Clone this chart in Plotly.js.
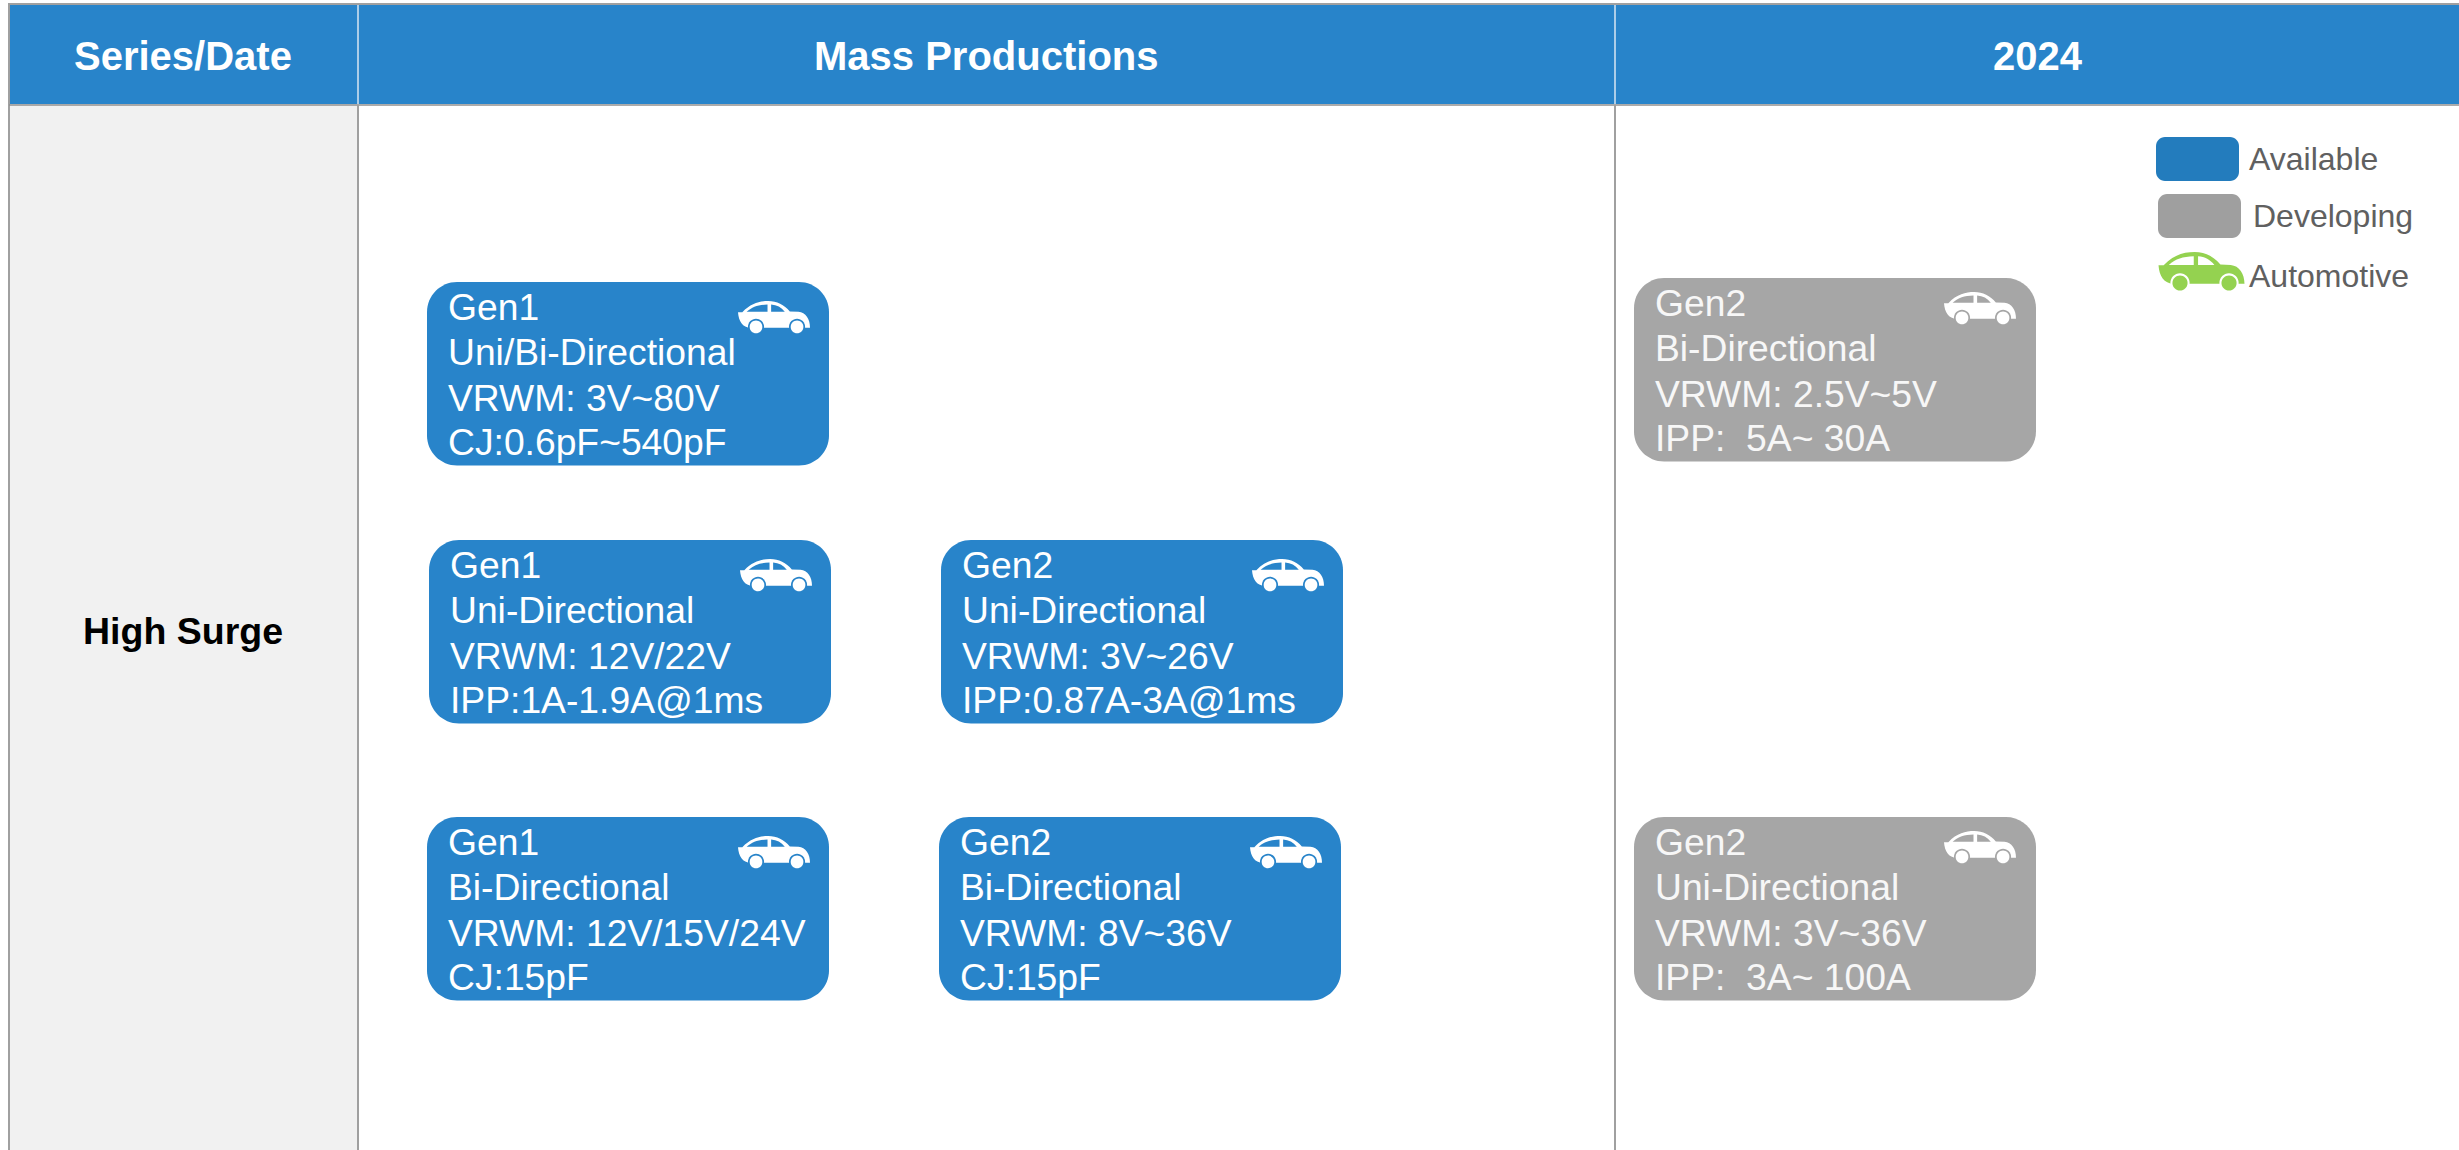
<!DOCTYPE html>
<html>
<head>
<meta charset="utf-8">
<script src="https://cdn.plot.ly/plotly-3.0.1.min.js"></script>
<style>html,body{margin:0;padding:0;background:#fff;overflow:hidden}</style>
</head>
<body>
<div id="chart" style="width:2459px;height:1150px"></div>
<script>
// ---- content ----
const headers = ["Series/Date", "Mass Productions", "2024"];
const rowLabel = "High Surge";
const cardGen = ["Gen1","Gen1","Gen2","Gen1","Gen2","Gen2","Gen2"];
const cardDirection = ["Uni/Bi-Directional","Uni-Directional","Uni-Directional","Bi-Directional","Bi-Directional","Bi-Directional","Uni-Directional"];
const cardVrwm = ["VRWM: 3V~80V","VRWM: 12V/22V","VRWM: 3V~26V","VRWM: 12V/15V/24V","VRWM: 8V~36V","VRWM: 2.5V~5V","VRWM: 3V~36V"];
const cardLast = ["CJ:0.6pF~540pF","IPP:1A-1.9A@1ms","IPP:0.87A-3A@1ms","CJ:15pF","CJ:15pF","IPP:  5A~ 30A","IPP:  3A~ 100A"];
const cardStatus = ["a","a","a","a","a","d","d"];
const legendLabels = ["Available","Developing","Automotive"];

// ---- geometry (page pixels, mapped through the axes) ----
const cardLeft = [427,429,941,427,939,1634,1634];
const cardTop  = [282,540,540,817,817,278,817];
const cardW = 402, cardH = 183.5, cardR = 30;
const lineOffsets = [38,83,129,173];
const colX = [9,358,1615,2459];
const headTop = 5, headBottom = 104;

// ---- style ----
const BLUE = "#2884ca", GREY = "#a6a6a6", LINE = "#a0a0a0";

function rr(x,y,w,h,r){
  const k = r*0.45;
  return `M${x+r},${y} L${x+w-r},${y} C${x+w-k},${y} ${x+w},${y+k} ${x+w},${y+r} L${x+w},${y+h-r} C${x+w},${y+h-k} ${x+w-k},${y+h} ${x+w-r},${y+h} L${x+r},${y+h} C${x+k},${y+h} ${x},${y+h-k} ${x},${y+h-r} L${x},${y+r} C${x},${y+k} ${x+k},${y} ${x+r},${y} Z`;
}
function circ(cx,cy,r){
  const k=r*0.5523;
  return `M${cx-r},${cy} C${cx-r},${cy-k} ${cx-k},${cy-r} ${cx},${cy-r} C${cx+k},${cy-r} ${cx+r},${cy-k} ${cx+r},${cy} C${cx+r},${cy+k} ${cx+k},${cy+r} ${cx},${cy+r} C${cx-k},${cy+r} ${cx-r},${cy+k} ${cx-r},${cy} Z`;
}
function shp(path,fill){
  return {type:"path",xref:"x",yref:"y",path:path,fillcolor:fill,line:{width:0},layer:"below"};
}
// car: x,y = top-left of bounding box, w = overall width; bg = colour of cut-outs
function car(x,y,w,fill,bg){
  const s=w/100;
  const P=(u,v)=>`${(x+u*s).toFixed(2)},${(y+v*s).toFixed(2)}`;
  const body=`M${P(0,15.5)} L${P(6,15.5)} C${P(18,3)} ${P(30,0)} ${P(42,0)} C${P(54,0)} ${P(64,5)} ${P(72,14.5)} L${P(84,15)} C${P(94,16)} ${P(100,25)} ${P(100,37)} L${P(18,37)} C${P(6,37)} ${P(1,28)} ${P(0,15.5)} Z`;
  const w1=`M${P(12,15)} C${P(20,8)} ${P(28,5.5)} ${P(41,5)} L${P(41,15)} Z`;
  const w2=`M${P(46,5)} C${P(54,5.5)} ${P(60,9)} ${P(65,15)} L${P(46,15)} Z`;
  const out=[shp(body,fill),shp(w1,bg),shp(w2,bg)];
  for(const cx of [25,82]){
    out.push(shp(circ(x+cx*s,y+36*s,11.2*s),bg));
    out.push(shp(circ(x+cx*s,y+36*s,8.8*s),fill));
  }
  return out;
}
function txt(x,y,t,size,color,anchor,bold){
  return {xref:"x",yref:"y",x:x,y:y,text:bold?`<b>${t}</b>`:t,showarrow:false,xanchor:anchor,yanchor:"middle",
    font:{family:"Liberation Sans, Arial, sans-serif",size:size,color:color},align:anchor,borderpad:0,borderwidth:0};
}

const shapes=[], annotations=[];
// table
shapes.push(shp(`M${colX[0]},${headBottom} L${colX[1]},${headBottom} L${colX[1]},1150 L${colX[0]},1150 Z`,"#f1f1f1"));
shapes.push(shp(`M${colX[0]},${headTop} L${colX[3]},${headTop} L${colX[3]},${headBottom} L${colX[0]},${headBottom} Z`,BLUE));
function ln(x0,y0,x1,y1,c,w){ shapes.push({type:"line",xref:"x",yref:"y",x0,y0,x1,y1,line:{color:c,width:w},layer:"below"}); }
ln(colX[0]-1,4,2459,4,LINE,2);
ln(colX[0],4,colX[0],1150,LINE,2);
ln(colX[0],105,2459,105,"#8f8f8f",1.5);
ln(colX[1],headTop,colX[1],headBottom,"#d9e6f2",1.5);
ln(colX[2],headTop,colX[2],headBottom,"#d9e6f2",1.5);
ln(colX[1],105,colX[1],1150,LINE,2);
ln(colX[2],105,colX[2],1150,LINE,2);

// header + row texts
[183,986,2037.5].forEach((x,i)=>annotations.push(txt(x,56,headers[i],40,"#ffffff","center",true)));
annotations.push(txt(183,631,rowLabel,37.5,"#000000","center",true));

// cards
cardGen.forEach((g,i)=>{
  const x=cardLeft[i], y=cardTop[i], dev=cardStatus[i]==="d";
  const col=dev?GREY:BLUE, tc=dev?"#f7f7f7":"#ffffff";
  shapes.push(shp(rr(x,y,cardW,cardH,cardR),col));
  shapes.push(...car(x+(dev?310:311),y+(dev?14:19),72,"#ffffff",col));
  [g,cardDirection[i],cardVrwm[i],cardLast[i]].forEach((t,j)=>{
    annotations.push(txt(x+21,y+lineOffsets[j]-13,t.replace(/  /g,"\u00a0\u00a0"),37.25,tc,"left",false));
  });
});

// legend
shapes.push(shp(rr(2156,137,83,44,9),"#237cbd"));
shapes.push(shp(rr(2158,194,83,44,9),"#9f9f9f"));
shapes.push(...car(2158.5,252,86,"#94d250","#ffffff"));
annotations.push(txt(2248.5,159,legendLabels[0],32,"#606060","left",false));
annotations.push(txt(2253,216,legendLabels[1],32,"#606060","left",false));
annotations.push(txt(2248.5,276,legendLabels[2],32,"#606060","left",false));

const layout={
  width:2459,height:1150,margin:{l:0,r:0,t:0,b:0,pad:0},
  paper_bgcolor:"#ffffff",plot_bgcolor:"#ffffff",showlegend:false,
  xaxis:{range:[0,2459],visible:false,fixedrange:true},
  yaxis:{range:[1150,0],visible:false,fixedrange:true},
  shapes,annotations
};
Plotly.newPlot("chart",[{x:[0,2459],y:[0,1150],mode:"markers",marker:{opacity:0},hoverinfo:"skip"}],layout,{staticPlot:true,displayModeBar:false});
</script>
</body>
</html>
